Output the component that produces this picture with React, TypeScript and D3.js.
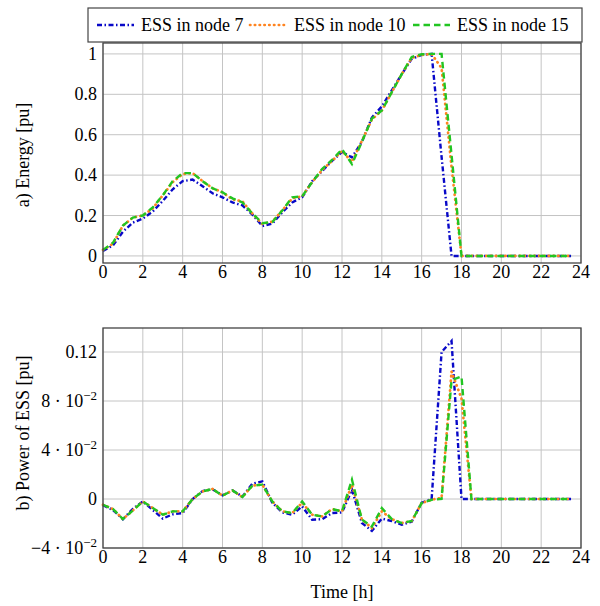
import React from "react";
import * as d3 from "d3";

const hours: number[] = d3.range(0, 24, 0.5);

const energy7 = [0.025,0.052,0.12,0.165,0.185,0.22,0.272,0.33,0.37,0.378,0.345,0.31,0.29,0.265,0.25,0.205,0.148,0.16,0.215,0.265,0.29,0.37,0.42,0.47,0.515,0.488,0.565,0.685,0.74,0.82,0.9,0.975,0.995,1.0,0.49,0,0,0,0,0,0,0,0,0,0,0,0,0];
const energy10 = [0.03,0.06,0.15,0.19,0.2,0.235,0.3,0.365,0.405,0.41,0.37,0.335,0.315,0.28,0.27,0.21,0.158,0.17,0.225,0.285,0.295,0.365,0.425,0.47,0.52,0.465,0.57,0.675,0.72,0.81,0.9,0.98,0.995,1.0,0.93,0.44,0,0,0,0,0,0,0,0,0,0,0,0];
const energy15 = [0.03,0.065,0.15,0.19,0.2,0.24,0.3,0.37,0.41,0.41,0.37,0.335,0.315,0.285,0.265,0.21,0.162,0.168,0.225,0.29,0.295,0.365,0.43,0.475,0.528,0.455,0.565,0.68,0.72,0.81,0.9,0.985,0.998,1.0,1.0,0.5,0,0,0,0,0,0,0,0,0,0,0,0];

const power7 = [-0.005,-0.009,-0.0165,-0.008,-0.002,-0.009,-0.016,-0.0125,-0.0115,0.0,0.0065,0.008,0.003,0.007,0.002,0.0125,0.0144,-0.003,-0.011,-0.0128,-0.006,-0.0169,-0.0165,-0.0115,-0.011,0.0076,-0.0196,-0.026,-0.016,-0.018,-0.021,-0.0185,-0.003,0,0.12,0.129,0,0,0,0,0,0,0,0,0,0,0,0];
const power10 = [-0.0047,-0.0082,-0.0164,-0.0093,-0.002,-0.0074,-0.0128,-0.0101,-0.0101,0.0,0.0062,0.0082,0.0027,0.007,0.0016,0.0109,0.0117,-0.002,-0.0101,-0.0115,-0.003,-0.0128,-0.0142,-0.0082,-0.0101,0.0117,-0.0169,-0.0237,-0.0101,-0.0164,-0.0196,-0.018,-0.0033,-0.0006,0.001,0.104,0.082,0,0,0,0,0,0,0,0,0,0,0];
const power15 = [-0.0047,-0.0082,-0.0164,-0.0093,-0.002,-0.0074,-0.0128,-0.0101,-0.0101,0.0,0.0062,0.0082,0.0027,0.007,0.0016,0.0109,0.0117,-0.002,-0.0101,-0.0115,-0.002,-0.0128,-0.0142,-0.0082,-0.0101,0.0158,-0.0169,-0.0225,-0.0074,-0.0164,-0.0196,-0.018,-0.0033,-0.0006,0,0.097,0.1,0,0,0,0,0,0,0,0,0,0,0];

const seriesNames = ["ESS in node 7", "ESS in node 10", "ESS in node 15"];
const xTicks = [0, 2, 4, 6, 8, 10, 12, 14, 16, 18, 20, 22, 24];
const energyTicks = [0, 0.2, 0.4, 0.6, 0.8, 1];
const energyTickLabels = ["0", "0.2", "0.4", "0.6", "0.8", "1"];
const powerTicks = [-0.04, 0, 0.04, 0.08, 0.12];
const powerTickLabels: [string, string | null][] = [["\u22124 \u00b7 10", "\u22122"], ["0", null], ["4 \u00b7 10", "\u22122"], ["8 \u00b7 10", "\u22122"], ["0.12", null]];

const colors = ["#0808c8", "#ff8420", "#22c522"];
const dashes = ["5 2.5 1.5 2.5", "0.4 4.4", "6.5 4"];
const caps: ("butt" | "round")[] = ["butt", "round", "butt"];
const widths = [2.4, 2.7, 2.4];

const FONT = "'Liberation Serif', 'Times New Roman', serif";
const X0 = 103, X1 = 581;

const x = d3.scaleLinear().domain([0, 24]).range([X0, X1]);

function Panel({ top, bottom, domain, ticks, labels, series, ylabel, ylabelY }: any) {
  const y = d3.scaleLinear().domain(domain).range([bottom, top]);
  const line = d3.line<number>().x((_, i) => x(hours[i])).y((d) => y(d));
  return (
    <g>
      {xTicks.map((t) => (
        <line key={"gx" + t} x1={x(t)} x2={x(t)} y1={top} y2={bottom} stroke="#c4c4c4" strokeWidth={1} />
      ))}
      {ticks.map((t: number) => (
        <line key={"gy" + t} x1={X0} x2={X1} y1={y(t)} y2={y(t)} stroke="#c4c4c4" strokeWidth={1} />
      ))}
      {series.map((s: number[], k: number) => (
        <path key={"s" + k} d={line(s) || ""} fill="none" stroke={colors[k]} strokeWidth={widths[k]}
          strokeDasharray={dashes[k]} strokeLinecap={caps[k]} />
      ))}
      <rect x={X0} y={top} width={X1 - X0} height={bottom - top} fill="none" stroke="#444" strokeWidth={1.3} />
      {xTicks.map((t) => (
        <text key={"tx" + t} x={x(t)} y={bottom + 15} textAnchor="middle" fontFamily={FONT} fontSize={18}>{t}</text>
      ))}
      {ticks.map((t: number, i: number) => {
        const lab = labels[i];
        if (Array.isArray(lab)) {
          return (
            <text key={"ty" + t} x={97} y={y(t) + 6} textAnchor="end" fontFamily={FONT} fontSize={18}>
              {lab[0]}
              {lab[1] ? <tspan fontSize={13} dy={-7}>{lab[1]}</tspan> : null}
            </text>
          );
        }
        return (
          <text key={"ty" + t} x={97} y={y(t) + 6} textAnchor="end" fontFamily={FONT} fontSize={18}>{lab}</text>
        );
      })}
      <text transform={`translate(29,${ylabelY}) rotate(-90)`} textAnchor="middle" fontFamily={FONT} fontSize={18}>{ylabel}</text>
    </g>
  );
}

export default function App() {
  const legendX = [97, 250, 413];
  return (
    <svg width={600} height={606} style={{ position: "absolute", left: 0, top: 0, background: "#fff" }}>
      <rect width={600} height={606} fill="#fff" />
      <Panel top={43} bottom={263} domain={[-0.035, 1.054]} ticks={energyTicks} labels={energyTickLabels}
        series={[energy7, energy10, energy15]} ylabel="a) Energy [pu]" ylabelY={155} />
      <Panel top={328} bottom={548} domain={[-0.04, 0.1396]} ticks={powerTicks} labels={powerTickLabels}
        series={[power7, power10, power15]} ylabel="b) Power of ESS [pu]" ylabelY={433} />
      <text x={342} y={598} textAnchor="middle" fontFamily={FONT} fontSize={18}>Time [h]</text>
      <g>
        <rect x={88} y={8} width={494} height={34} fill="#fff" stroke="#444" strokeWidth={1.2} />
        {seriesNames.map((n, k) => (
          <g key={n}>
            <line x1={legendX[k]} x2={legendX[k] + 37} y1={25} y2={25} stroke={colors[k]} strokeWidth={widths[k]}
              strokeDasharray={dashes[k]} strokeLinecap={caps[k]} />
            <text x={legendX[k] + 44} y={31} fontFamily={FONT} fontSize={18}>{n}</text>
          </g>
        ))}
      </g>
    </svg>
  );
}
